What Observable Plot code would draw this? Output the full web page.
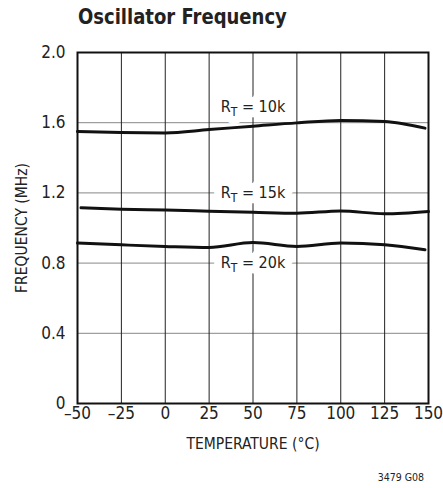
<!DOCTYPE html>
<html>
<head>
<meta charset="utf-8">
<script src="https://cdn.jsdelivr.net/npm/d3@7"></script>
<script src="https://cdn.jsdelivr.net/npm/@observablehq/plot@0.6"></script>
<style>
  html, body { margin: 0; padding: 0; background: #fff; }
  #wrap { position: relative; width: 443px; height: 488px; overflow: hidden;
          font-family: "DejaVu Sans Condensed", "DejaVu Sans", sans-serif; font-stretch: condensed; }
  #title { position: absolute; left: 78px; top: 6px; font-size: 22px; line-height: 22px; font-weight: bold; color: #222;
           transform: scaleX(0.91); transform-origin: left top; white-space: nowrap; }
  #chart { position: absolute; left: 0; top: 40px; }
  #code { position: absolute; right: 19px; top: 471px; font-size: 10.5px; line-height: 13px; color: #222; }
</style>
</head>
<body>
<div id="wrap">
  <div id="title">Oscillator Frequency</div>
  <div id="chart"></div>
  <div id="code">3479 G08</div>
</div>
<script>
// Data
const temps10 = [-50, -25, 0, 25, 50, 75, 100, 125, 148];
const freq10  = [1.550, 1.544, 1.542, 1.561, 1.580, 1.599, 1.613, 1.607, 1.569];
const temps15 = [-48, -25, 0, 25, 50, 75, 100, 125, 150];
const freq15  = [1.115, 1.107, 1.102, 1.096, 1.090, 1.084, 1.097, 1.081, 1.094];
const temps20 = [-50, -25, 0, 25, 50, 75, 100, 125, 148];
const freq20  = [0.914, 0.904, 0.895, 0.889, 0.917, 0.895, 0.914, 0.904, 0.876];
const seriesNames = ["10k", "15k", "20k"];
const labelTemps = [50, 50, 50];
const labelFreqs = [1.69, 1.2, 0.8];
const xTicks = [-50, -25, 0, 25, 50, 75, 100, 125, 150];
const yTicks = [0, 0.4, 0.8, 1.2, 1.6, 2.0];

const rows = [];
[[temps10, freq10], [temps15, freq15], [temps20, freq20]].forEach(([ts, fs], i) => {
  ts.forEach((t, j) => rows.push({series: seriesNames[i], t, f: fs[j]}));
});
const labels = seriesNames.map((s, i) => ({series: s, t: labelTemps[i], f: labelFreqs[i]}));

const font = '"DejaVu Sans Condensed", "DejaVu Sans", sans-serif';

const chart = Plot.plot({
  width: 443,
  height: 448,
  marginLeft: 77,
  marginRight: 15,
  marginTop: 12,
  marginBottom: 85,
  style: {fontFamily: font, fontSize: "17px", color: "#222", background: "white"},
  x: {domain: [-50, 150], ticks: xTicks, tickSize: 0, tickPadding: 3,
      tickFormat: d => d < 0 ? "\u2013" + (-d) : String(d),
      label: "TEMPERATURE (°C)", labelAnchor: "center", labelOffset: 45, labelArrow: "none"},
  y: {domain: [0, 2], ticks: yTicks, tickSize: 0, tickPadding: 12,
      tickFormat: d => d === 0 ? "0" : d.toFixed(1),
      label: "FREQUENCY (MHz)", labelAnchor: "center", labelOffset: 62, labelArrow: "none"},
  marks: [
    Plot.gridY(yTicks, {stroke: "#888", strokeOpacity: 1, strokeWidth: 1}),
    Plot.gridX(xTicks, {stroke: "#222", strokeOpacity: 1, strokeWidth: 1}),
    Plot.text(labels, {x: "t", y: "f", text: "series", fill: "white",
      stroke: "white", strokeWidth: 16, strokeLinejoin: "round", fontSize: 16}),
    Plot.text(labels, {x: "t", y: "f", text: "series", fill: "#222", fontSize: 16}),
    Plot.line(rows, {x: "t", y: "f", z: "series", stroke: "#111", strokeWidth: 3, curve: "monotone-x"}),
    Plot.frame({stroke: "#111", strokeWidth: 2})
  ]
});

// Axis title font size
chart.querySelectorAll('g[aria-label="x-axis label"] text, g[aria-label="y-axis label"] text')
  .forEach(el => el.setAttribute("font-size", "15.5"));

// Subscript T in the curve labels: R_T = ...
chart.querySelectorAll('g[aria-label="text"] text').forEach(el => {
  const v = el.textContent;
  el.textContent = "";
  const ns = "http://www.w3.org/2000/svg";
  const a = document.createElementNS(ns, "tspan"); a.textContent = "R";
  const b = document.createElementNS(ns, "tspan"); b.textContent = "T";
  b.setAttribute("font-size", "12"); b.setAttribute("dy", "4");
  const c = document.createElementNS(ns, "tspan"); c.textContent = " = " + v;
  c.setAttribute("dy", "-4");
  el.append(a, b, c);
});

document.getElementById("chart").appendChild(chart);
</script>
</body>
</html>
